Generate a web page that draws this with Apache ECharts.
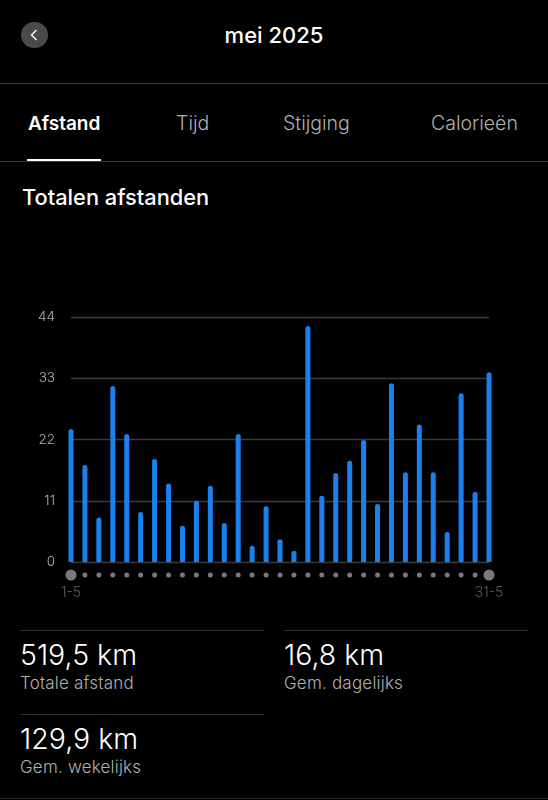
<!DOCTYPE html>
<html>
<head>
<meta charset="utf-8">
<script src="https://cdn.jsdelivr.net/npm/echarts@6/dist/echarts.min.js"></script>
<style>
html, body { margin: 0; background: #000; width: 548px; height: 800px; overflow: hidden; font-family: Inter, "Noto Sans", sans-serif; }
.t { position: absolute; white-space: nowrap; line-height: 1; }
.line { position: absolute; height: 1px; }
#main { position: absolute; left: 0; top: 300px; width: 548px; height: 310px; }
</style>
</head>
<body>
<div class="t" style="left:0;width:548px;text-align:center;top:24px;font-size:22px;font-weight:500;color:#fff">mei 2025</div>
<div style="position:absolute;left:21px;top:22px;width:27px;height:26px;border-radius:13px;background:#4a4a4a"></div>
<svg style="position:absolute;left:21px;top:22px" width="26" height="26"><path d="M15.5 8 L10.5 13 L15.5 18" fill="none" stroke="#fff" stroke-width="1.4"/></svg>
<div class="line" style="left:0;top:83px;width:548px;background:#3a3a3a"></div>

<div class="t" style="left:28px;top:114px;font-size:19px;font-weight:600;color:#fff">Afstand</div>
<div class="t" style="left:176px;top:114px;font-size:19.5px;font-weight:300;color:#b0b0b0">Tijd</div>
<div class="t" style="left:283px;top:114px;font-size:19.5px;font-weight:300;color:#b0b0b0">Stijging</div>
<div class="t" style="left:431px;top:114px;font-size:19.5px;font-weight:300;color:#b0b0b0">Calorieën</div>
<div class="line" style="left:0;top:161px;width:548px;background:#3a3a3a"></div>
<div class="line" style="left:27px;top:159px;width:74px;height:2px;background:#fff"></div>

<div class="t" style="left:22px;top:187px;font-size:21.8px;font-weight:500;color:#fff">Totalen afstanden</div>

<div id="main"></div>

<div class="line" style="left:20px;top:630px;width:244px;background:#333"></div>
<div class="line" style="left:284px;top:630px;width:244px;background:#333"></div>
<div class="t" style="left:20px;top:641px;font-size:28.5px;font-weight:300;color:#fff">519,5 km</div>
<div class="t" style="left:20px;top:675px;font-size:17px;font-weight:300;letter-spacing:.2px;color:#b0b0b0">Totale afstand</div>
<div class="t" style="left:284px;top:641px;font-size:28.5px;font-weight:300;color:#fff">16,8 km</div>
<div class="t" style="left:284px;top:675px;font-size:17px;font-weight:300;letter-spacing:.2px;color:#b0b0b0">Gem. dagelijks</div>
<div class="line" style="left:20px;top:714px;width:244px;background:#333"></div>
<div class="t" style="left:20px;top:725px;font-size:28.5px;font-weight:300;color:#fff">129,9 km</div>
<div class="t" style="left:20px;top:759px;font-size:17px;font-weight:300;letter-spacing:.2px;color:#b0b0b0">Gem. wekelijks</div>
<div class="line" style="left:0;top:798px;width:548px;background:#222"></div>

<script type="text/javascript">
// dagen van de maand en afstand per dag (km)
var days = ['1-5','2-5','3-5','4-5','5-5','6-5','7-5','8-5','9-5','10-5','11-5','12-5','13-5','14-5','15-5','16-5',
            '17-5','18-5','19-5','20-5','21-5','22-5','23-5','24-5','25-5','26-5','27-5','28-5','29-5','30-5','31-5'];
var distances = [23.9,17.4,8.0,31.6,23.0,9.0,18.5,14.1,6.5,11.0,13.7,7.0,23.0,2.9,10.0,4.1,
                 2.0,42.4,11.9,16.0,18.2,21.9,10.4,32.1,16.1,24.7,16.1,5.4,30.3,12.6,34.1];
var yTicks = [0,11,22,33,44];
var dayDots = days.map(function () { return 0; });

var myChart = echarts.init(document.getElementById('main'));
var option = {
    animation: false,
    backgroundColor: '#000',
    textStyle: {fontFamily: 'Inter'},
    grid: [
        {left: 71, right: 59, top: 17, height: 245},
        {left: 71, right: 59, top: 269, height: 12}
    ],
    xAxis: [{
        type: 'category',
        data: days,
        boundaryGap: false,
        axisLine: {show: false},
        axisTick: {show: false},
        axisLabel: {show: false}
    }, {
        gridIndex: 1,
        type: 'category',
        data: days,
        boundaryGap: false,
        axisLine: {show: false},
        axisTick: {show: false},
        axisLabel: {
            color: '#5a5a5a',
            fontSize: 14,
            fontWeight: 300,
            margin: 5,
            interval: function (i) { return i === 0 || i === days.length - 1; },
            hideOverlap: false
        }
    }],
    yAxis: [{
        type: 'value',
        min: 0,
        max: 44,
        interval: 11,
        axisLine: {show: false},
        axisTick: {show: false},
        axisLabel: {
            color: '#b0b0b0',
            fontSize: 13.5,
            fontWeight: 300,
            margin: 16,
            customValues: yTicks
        },
        splitLine: {lineStyle: {color: '#3a3a3a', width: 1.4}}
    }, {
        gridIndex: 1,
        type: 'value',
        min: -1,
        max: 1,
        show: false
    }],
    series: [{
        type: 'bar',
        data: distances,
        barWidth: 5,
        clip: false,
        itemStyle: {color: '#1a80ee', borderRadius: [3, 3, 0, 0]},
        z: 3
    }, {
        type: 'scatter',
        xAxisIndex: 1,
        yAxisIndex: 1,
        data: dayDots,
        clip: false,
        symbolSize: function (v, p) {
            return (p.dataIndex === 0 || p.dataIndex === days.length - 1) ? 11 : 5;
        },
        itemStyle: {color: '#7a7a7a', opacity: 1}
    }]
};
myChart.setOption(option);
</script>
</body>
</html>
